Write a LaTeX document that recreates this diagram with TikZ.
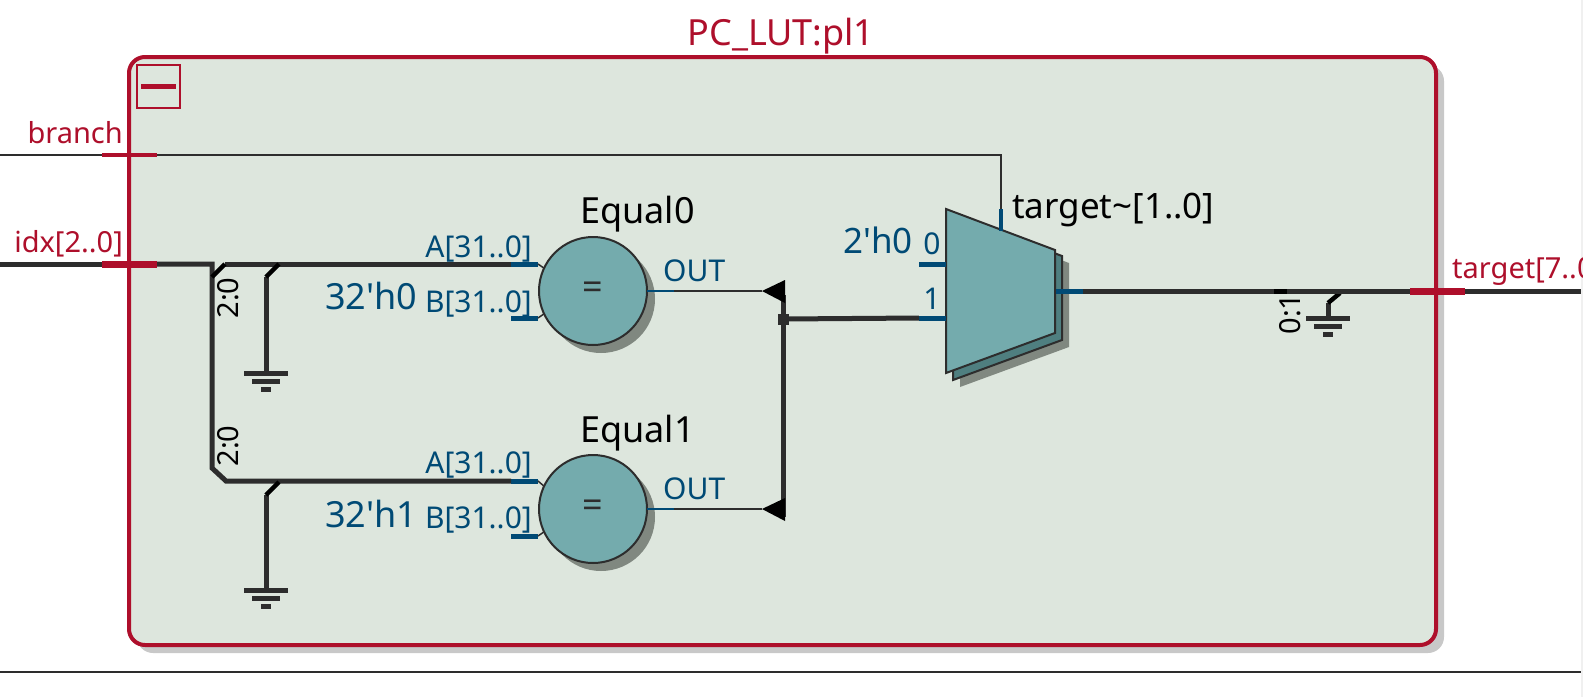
\documentclass[tikz,border=0pt]{standalone}
\usepackage{fontspec}
\setmainfont{Noto Sans}
\usetikzlibrary{shadows}
\definecolor{blkred}{HTML}{AE0F2B}
\definecolor{blkfill}{HTML}{DDE6DD}
\definecolor{pinblue}{HTML}{004A75}
\definecolor{wiredark}{HTML}{2D2D2D}
\definecolor{opteal}{HTML}{74ABAD}
\definecolor{opback}{HTML}{4F7F80}
\definecolor{opshade}{HTML}{808880}
\definecolor{blkshade}{HTML}{C8C8C8}
\newcommand{\bigfont}{\fontsize{36}{36}\selectfont}
\newcommand{\constfont}{\fontsize{35}{35}\selectfont}
\newcommand{\pinfont}{\fontsize{30}{30}\selectfont}
\newcommand{\ripfont}{\fontsize{29}{29}\selectfont}
\tikzset{
  pinport/.style={rectangle, fill=pinblue, inner sep=0pt, outer sep=0pt, minimum width=27pt, minimum height=5pt},
  redport/.style={rectangle, fill=blkred, inner sep=0pt, outer sep=0pt, minimum width=55pt},
  thinwire/.style={draw=wiredark, line width=2pt},
  buswire/.style={draw=wiredark, line width=5pt},
  riptick/.style={draw=black, line width=4.5pt},
  optext/.style={inner sep=0pt, font=\bigfont, text=black},
  pintext/.style={inner sep=0pt, font=\pinfont, text=pinblue},
  redtext/.style={inner sep=0pt, font=\ripfont, text=blkred},
  cmpnode/.style={circle, draw=wiredark, line width=2pt, fill=opteal, inner sep=0pt, outer sep=0pt,
    minimum size=108pt, font=\bigfont, text=wiredark,
    general shadow={shadow xshift=8pt, shadow yshift=-8pt, fill=opshade}},
  gndsym/.pic={
    \fill[wiredark] (-22,-2.5) rectangle (22,2.5);
    \fill[wiredark] (-14,5.5) rectangle (14,10.5);
    \fill[wiredark] (-5,13.5) rectangle (5,18.5);
  }
}
\begin{document}
\begin{tikzpicture}[x=1pt, y=-1pt]
\useasboundingbox (0,0) rectangle (1583,697);
\clip (0,0) rectangle (1583,697);
\fill[white] (0,0) rectangle (1583,697);
\fill[black!6] (1581,0) rectangle (1583,697);
\draw[wiredark, line width=2pt] (0,672) -- (1581,672);
% block
\node[rectangle, draw=blkred, line width=4pt, fill=blkfill, rounded corners=16pt, inner sep=0pt, outer sep=0pt,
  minimum width=1307pt, minimum height=588pt,
  general shadow={shadow xshift=8pt, shadow yshift=-8pt, fill=blkshade}] (pl1) at (782.5,351) {};
\node[optext, text=blkred, anchor=base] (pl1title) at (781,45) {PC\_LUT:pl1};
\node[rectangle, draw=blkred, line width=1.5pt, minimum size=43pt, inner sep=0pt] (collapse) at (158.5,86.5) {};
\fill[blkred] (141,84) rectangle (176,89);
% block pins
\node[redport, minimum height=4pt] (branchport) at (129.5,155) {};
\node[redport, minimum height=7pt] (idxport) at (129.5,264) {};
\node[redport, minimum height=7pt] (targetport) at (1437.5,291) {};
\coordinate (branchin) at (0,155);
\coordinate (idxin) at (0,264);
\coordinate (targetout) at (1581,291);
\node[redtext, anchor=base east] (branchlbl) at (123,143) {branch};
\node[redtext, anchor=base east] (idxlbl) at (123,252) {idx[2..0]};
\node[redtext, anchor=base west] (targetlbl) at (1452,278) {target[7..0]};
% equal 0
\node[cmpnode] (eq0) at (593,291) {=};
\node[optext, anchor=base west] (eq0lbl) at (580,223) {Equal0};
\node[pinport] (eq0a) at (524.5,264) {};
\node[pinport] (eq0b) at (524.5,318) {};
\node[pinport, minimum height=2pt] (eq0out) at (660.5,291) {};
\node[pintext, anchor=base east] (eq0albl) at (532,257) {A[31..0]};
\node[pintext, anchor=base east] (eq0blbl) at (532,312) {B[31..0]};
\node[pintext, anchor=base west] (eq0olbl) at (663,281) {OUT};
\node[pintext, font=\bigfont, anchor=base west] (eq0const) at (325,309) {32\textquotesingle h0};
% equal 1
\node[cmpnode] (eq1) at (593,509) {=};
\node[optext, anchor=base west] (eq1lbl) at (580,442) {Equal1};
\node[pinport] (eq1a) at (524.5,481) {};
\node[pinport] (eq1b) at (524.5,536) {};
\node[pinport, minimum height=2pt] (eq1out) at (660.5,509) {};
\node[pintext, anchor=base east] (eq1albl) at (532,473) {A[31..0]};
\node[pintext, anchor=base east] (eq1blbl) at (532,528) {B[31..0]};
\node[pintext, anchor=base west] (eq1olbl) at (663,499) {OUT};
\node[pintext, font=\bigfont, anchor=base west] (eq1const) at (325,527) {32\textquotesingle h1};
% mux
\fill[opshade] (960,222) -- (1069,263) -- (1069,347) -- (960,387) -- cycle;
\filldraw[fill=opback, draw=wiredark, line width=2pt] (953,215) -- (1062,256) -- (1062,340) -- (953,380) -- cycle;
\filldraw[fill=opteal, draw=wiredark, line width=2pt] (946,209) -- (1055,250) -- (1055,333) -- (946,373) -- cycle;
\node[pinport] (muxa) at (932.5,264) {};
\node[pinport] (muxb) at (932.5,318) {};
\node[pinport, minimum width=4pt, minimum height=22pt] (muxsel) at (1001,220) {};
\node[pinport] (muxout) at (1069,291) {};
\node[optext, font=\constfont, anchor=base west] (muxlbl) at (1012,218) {target\textasciitilde[1..0]};
\node[pintext, font=\constfont, anchor=base west] (muxconst) at (843,253) {2\textquotesingle h0};
\node[pintext, anchor=base] (muxalbl) at (932,254) {0};
\node[pintext, anchor=base] (muxblbl) at (932,309) {1};
% wires
\draw[thinwire] (branchin) -- (branchport.west);
\draw[thinwire] (branchport.east) -| (muxsel.north);
\coordinate (idxsplit) at (212,264);
\coordinate (idxlow) at (212,468);
\coordinate (idxbend) at (226,481);
\draw[buswire] (idxin) -- (idxport.west);
\draw[buswire] (idxport.east) -- (idxsplit) -- (idxlow) -- (idxbend) -- (eq1a.west);
\coordinate (top0) at (225,264);
\draw[buswire] (top0) -- (eq0a.west);
\draw[riptick] (212,277) -- (top0);
\node[inner sep=0pt, rotate=90, font=\ripfont, text=black] (rip0) at (228,298) {2:0};
\node[inner sep=0pt, rotate=90, font=\ripfont, text=black] (rip1) at (228,446) {2:0};
% constants to ground
\coordinate (gnd0) at (266,373);
\coordinate (gnd1) at (266,590);
\coordinate (gnd2) at (1328,318);
\draw[buswire] (gnd0) -- (266,277);
\draw[riptick] (266,277) -- (279,264);
\draw[buswire] (gnd1) -- (266,495);
\draw[riptick] (266,495) -- (279,482);
\draw[buswire] (gnd2) -- (1328,303);
\draw[riptick] (1328,303) -- (1340,293);
\pic at (gnd0) {gndsym};
\pic at (gnd1) {gndsym};
\pic at (gnd2) {gndsym};
% to mux
\draw[thinwire, line width=1.5pt] (eq0a.east) -- (eq0.155);
\draw[thinwire, line width=1.5pt] (eq0b.east) -- (eq0.205);
\draw[thinwire, line width=1.5pt] (eq1a.east) -- (eq1.155);
\draw[thinwire, line width=1.5pt] (eq1b.east) -- (eq1.205);
\coordinate (tip0) at (762,291);
\coordinate (tip1) at (762,509);
\draw[thinwire] (eq0out.east) -- (tip0);
\draw[thinwire] (eq1out.east) -- (tip1);
\coordinate (trunk0) at (783,295);
\coordinate (trunk1) at (783,517);
\draw[buswire] (trunk0) -- (trunk1);
\fill[black] (tip0) -- ++(23,-11) -- ++(0,23) -- cycle;
\fill[black] (tip1) -- ++(23,-11) -- ++(0,23) -- cycle;
\node[rectangle, fill=wiredark, minimum size=11pt, inner sep=0pt] (junc) at (783,319) {};
\draw[buswire] (junc) -- (muxb.west);
% output
\draw[buswire] (muxout.east) -- (targetport.west);
\draw[buswire] (targetport.east) -- (targetout);
\fill[black] (1274,288.5) rectangle (1287,293.5);
\node[inner sep=0pt, rotate=90, font=\ripfont, text=black] (rip2) at (1290,314) {0:1};
\end{tikzpicture}
\end{document}
